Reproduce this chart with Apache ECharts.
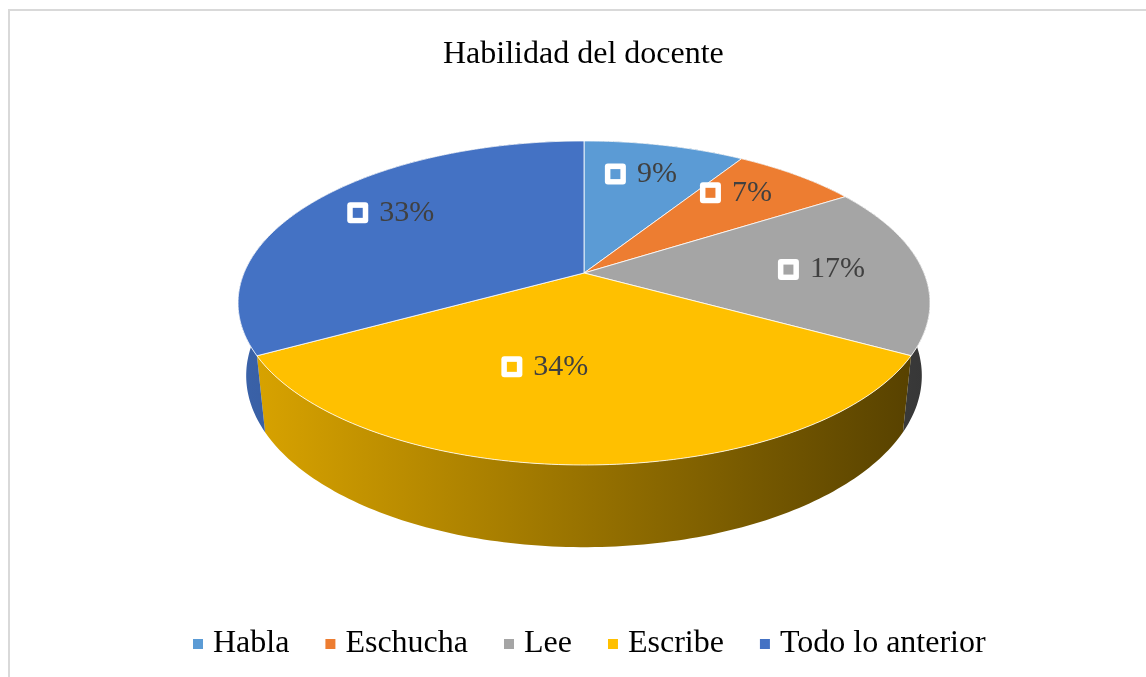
<!DOCTYPE html>
<html>
<head>
<meta charset="utf-8">
<title>Habilidad del docente</title>
<script src="https://cdn.jsdelivr.net/npm/echarts@6/dist/echarts.min.js"></script>
<style>
  html, body { margin: 0; padding: 0; background: #fff; }
  #chart { width: 1146px; height: 677px; }
</style>
</head>
<body>
<div id="chart"></div>
<script>
const categories = ['Habla', 'Eschucha', 'Lee', 'Escribe', 'Todo lo anterior'];
const percents = [9, 7, 17, 34, 33];
const colors = ['#5B9BD5', '#ED7D31', '#A5A5A5', '#FFC000', '#4472C4'];

// perspective camera for the tilted pie (Excel 3D look)
const cam = { cx: 584, cy: 273, f: 1632, d: 4.8, tilt: 27.4 * Math.PI / 180, depth: 0.243 };
// where the data labels sit, in pie units / degrees
const labelR = [0.74, 0.75, 0.7, 0.55, 0.74];
const labelShift = [-1.5, -4, 0, 11, 3.4];
const labelFont = '30px "Liberation Serif"';

const total = percents.reduce((a, b) => a + b, 0);
const starts = [];
percents.reduce((acc, v, i) => { starts[i] = acc; return acc + v; }, 0);

const measureCtx = document.createElement('canvas').getContext('2d');
measureCtx.font = labelFont;

// theta: degrees clockwise from 12 o'clock, r: 0..1, y: 0 top face, negative goes down
function project(theta, r, y) {
  const t = theta * Math.PI / 180;
  const X = r * Math.sin(t);
  const Z = -r * Math.cos(t);
  const sb = Math.sin(cam.tilt), cb = Math.cos(cam.tilt);
  const dep = cam.d - y * sb - Z * cb;
  return [cam.cx + cam.f * X / dep, cam.cy + cam.f * (Z * sb - y * cb) / dep];
}

function shade(hex, k) {
  const n = parseInt(hex.slice(1), 16);
  const r = Math.round(((n >> 16) & 255) * k);
  const g = Math.round(((n >> 8) & 255) * k);
  const b = Math.round((n & 255) * k);
  return 'rgb(' + r + ',' + g + ',' + b + ')';
}

function renderSlice(i) {
  return function (params, api) {
    const val = api.value(0);
    const a0 = starts[i] / total * 360;
    const a1 = (starts[i] + val) / total * 360;
    const steps = Math.max(2, Math.ceil(a1 - a0));
    const top = [];
    const bottom = [];
    for (let k = 0; k <= steps; k++) {
      const a = a0 + (a1 - a0) * k / steps;
      top.push(project(a, 1, 0));
      bottom.push(project(a, 1, -cam.depth));
    }
    const apex = project(0, 0, 0);
    const left = project(270, 1, 0)[0] - 6;
    const right = project(90, 1, 0)[0] + 6;
    const wallFill = new echarts.graphic.LinearGradient(left, 0, right, 0, [
      { offset: 0, color: shade(colors[i], 0.86) },
      { offset: 1, color: shade(colors[i], 0.33) }
    ], true);

    // data label: white framed key + percent text
    const mid = (a0 + a1) / 2 + labelShift[i];
    const pos = project(mid, labelR[i], 0);
    const txt = Math.round(val / total * 100) + '%';
    const tw = measureCtx.measureText(txt).width;
    const groupW = 20 + 11 + tw;
    const x0 = pos[0] - groupW / 2;

    return {
      type: 'group',
      children: [
        {
          type: 'polygon',
          shape: { points: top.concat(bottom.slice().reverse()) },
          style: { fill: wallFill },
          z2: 1
        },
        {
          type: 'polygon',
          shape: { points: [apex].concat(top) },
          style: { fill: colors[i], stroke: 'rgba(255,255,255,0.8)', lineWidth: 1 },
          z2: 10
        },
        {
          type: 'rect',
          shape: { x: x0, y: pos[1] - 10.5, width: 21, height: 21, r: 3 },
          style: { fill: '#fff' },
          z2: 20
        },
        {
          type: 'rect',
          shape: { x: x0 + 5.5, y: pos[1] - 5, width: 10, height: 10 },
          style: { fill: colors[i] },
          z2: 21
        },
        {
          type: 'text',
          x: x0 + 32,
          y: pos[1],
          style: {
            text: txt,
            font: labelFont,
            fill: '#404040',
            align: 'left',
            verticalAlign: 'middle'
          },
          z2: 21
        }
      ]
    };
  };
}

const chart = echarts.init(document.getElementById('chart'));

chart.setOption({
  animation: false,
  backgroundColor: '#fff',
  title: {
    text: 'Habilidad del docente',
    left: 443,
    top: 39,
    padding: 0,
    textStyle: {
      fontFamily: 'Liberation Serif',
      fontSize: 32,
      fontWeight: 'normal',
      color: '#000'
    }
  },
  legend: {
    data: categories,
    left: 193,
    top: 628,
    padding: 0,
    icon: 'rect',
    itemWidth: 10,
    itemHeight: 10,
    itemGap: 36,
    selectedMode: false,
    textStyle: {
      fontFamily: 'Liberation Serif',
      fontSize: 32,
      color: '#000',
      padding: [0, 0, 0, 5]
    }
  },
  graphic: [{
    type: 'rect',
    silent: true,
    shape: { x: 9, y: 10, width: 1160, height: 720 },
    style: { fill: 'none', stroke: '#D9D9D9', lineWidth: 2 }
  }],
  series: categories.map((name, i) => ({
    type: 'custom',
    name: name,
    coordinateSystem: 'none',
    silent: true,
    itemStyle: { color: colors[i] },
    renderItem: renderSlice(i),
    data: [percents[i]]
  }))
});
</script>
</body>
</html>
